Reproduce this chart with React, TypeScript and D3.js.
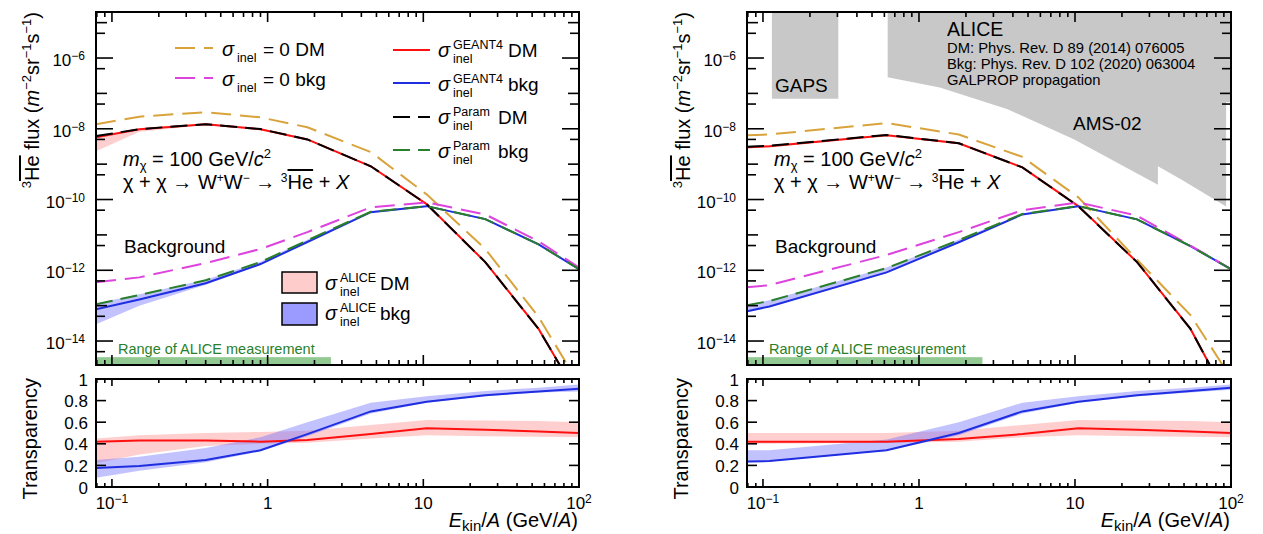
import React from 'react';
import * as d3 from 'd3';

const FONT = '"Liberation Sans", Arial, Helvetica, sans-serif';

// ---------- axes ----------
const energyDomain = [0.079, 100];
const fluxDomain = [2.1e-15, 2e-5];
const fluxLabelValues = [1e-14, 1e-12, 1e-10, 1e-8, 1e-6];
const fluxLabelExps = ['−14', '−12', '−10', '−8', '−6'];
const transLabelValues = [0, 0.2, 0.4, 0.6, 0.8, 1];
const transLabelTexts = ['0', '0.2', '0.4', '0.6', '0.8', '1'];
const energyLabelValues = [0.1, 1, 10, 100];
const energyLabelBases = ['10', '1', '10', '10'];
const energyLabelExps = ['−1', '', '', '2'];

// ---------- left panel (top: flux, bottom: transparency) ----------
const energyLeft = [0.079, 0.15, 0.4, 0.9, 1.8, 4.6, 10.5, 25, 55, 100];
const noAbsDmLeft = [1.35e-8, 2.2e-8, 2.95e-8, 2.1e-8, 1.1e-8, 2.2e-9, 1.4e-10, 4e-12, 4.8e-14, 6e-16];
const noAbsBkgLeft = [4.6e-13, 6.3e-13, 1.6e-12, 4e-12, 1.2e-11, 6e-11, 8.3e-11, 3.8e-11, 6.6e-12, 1.2e-12];
const geantDmLeft = [5.8e-9, 9.7e-9, 1.35e-8, 9.7e-9, 5e-9, 8.7e-10, 7.4e-11, 1.7e-12, 2.2e-14, 2.5e-16];
const geantBkgLeft = [7.9e-14, 1.5e-13, 4.3e-13, 1.5e-12, 6.3e-12, 4.4e-11, 6.5e-11, 2.8e-11, 5.4e-12, 1.07e-12];
const paramDmLeft = [6.2e-9, 9.8e-9, 1.35e-8, 9.8e-9, 5e-9, 8.7e-10, 7.4e-11, 1.7e-12, 2.2e-14, 2.5e-16];
const paramBkgLeft = [1.1e-13, 2e-13, 5.2e-13, 1.7e-12, 7e-12, 4.5e-11, 6.5e-11, 2.8e-11, 5.4e-12, 1.07e-12];
const aliceDmLowLeft = [2.3e-9, 8.3e-9, 1.28e-8, 9.2e-9, 4.75e-9, 8.3e-10, 7.0e-11, 1.62e-12, 2.1e-14, 2.4e-16];
const aliceDmHighLeft = [6.5e-9, 1.02e-8, 1.42e-8, 1.02e-8, 5.25e-9, 9.1e-10, 7.8e-11, 1.78e-12, 2.3e-14, 2.6e-16];
const aliceBkgLowLeft = [3.0e-14, 1.0e-13, 3.9e-13, 1.42e-12, 6.0e-12, 4.2e-11, 6.2e-11, 2.7e-11, 5.2e-12, 1.03e-12];
const aliceBkgHighLeft = [1.15e-13, 2.1e-13, 5.4e-13, 1.75e-12, 7.3e-12, 4.7e-11, 6.8e-11, 2.9e-11, 5.6e-12, 1.1e-12];
const transGeantDmLeft = [0.42, 0.43, 0.43, 0.42, 0.435, 0.49, 0.545, 0.53, 0.515, 0.5];
const transAliceDmLowLeft = [0.22, 0.3, 0.38, 0.4, 0.41, 0.45, 0.48, 0.47, 0.465, 0.46];
const transAliceDmHighLeft = [0.45, 0.48, 0.5, 0.51, 0.52, 0.575, 0.62, 0.615, 0.61, 0.6];
const transGeantBkgLeft = [0.176, 0.195, 0.25, 0.34, 0.49, 0.7, 0.79, 0.85, 0.885, 0.91];
const transAliceBkgLowLeft = [0.085, 0.15, 0.23, 0.33, 0.47, 0.68, 0.78, 0.84, 0.875, 0.885];
const transAliceBkgHighLeft = [0.25, 0.28, 0.36, 0.46, 0.6, 0.78, 0.84, 0.89, 0.92, 0.95];

// ---------- right panel ----------
const energyRight = [0.079, 0.11, 0.62, 1.8, 4.6, 10.5, 25, 55, 100];
const noAbsDmRight = [6.6e-9, 6.9e-9, 1.45e-8, 6.9e-9, 1.6e-9, 1.15e-10, 2e-12, 5.4e-14, 9e-16];
const noAbsBkgRight = [3.3e-13, 3.8e-13, 2.7e-12, 1.2e-11, 5e-11, 8.3e-11, 3.5e-11, 5e-12, 1.07e-12];
const geantDmRight = [3.0e-9, 3.2e-9, 6.6e-9, 3.9e-9, 8.1e-10, 6.5e-11, 1.7e-12, 2.2e-14, 1.6e-16];
const geantBkgRight = [6.9e-14, 9.5e-14, 8.7e-13, 6.2e-12, 3.8e-11, 6.5e-11, 2.75e-11, 4.8e-12, 1.07e-12];
const paramDmRight = [3.1e-9, 3.3e-9, 6.7e-9, 3.9e-9, 8.1e-10, 6.5e-11, 1.7e-12, 2.2e-14, 1.6e-16];
const paramBkgRight = [1.02e-13, 1.35e-13, 1.15e-12, 7.1e-12, 3.9e-11, 6.5e-11, 2.75e-11, 4.8e-12, 1.07e-12];
const aliceDmLowRight = [2.75e-9, 2.95e-9, 6.2e-9, 3.65e-9, 7.6e-10, 6.1e-11, 1.6e-12, 2.05e-14, 1.5e-16];
const aliceDmHighRight = [3.25e-9, 3.45e-9, 7.0e-9, 4.15e-9, 8.6e-10, 6.9e-11, 1.8e-12, 2.35e-14, 1.7e-16];
const aliceBkgLowRight = [6.5e-14, 9.0e-14, 8.3e-13, 6.0e-12, 3.7e-11, 6.3e-11, 2.65e-11, 4.6e-12, 1.03e-12];
const aliceBkgHighRight = [1.08e-13, 1.42e-13, 1.2e-12, 7.4e-12, 4.0e-11, 6.7e-11, 2.85e-11, 5.0e-12, 1.1e-12];
const transGeantDmRight = [0.42, 0.42, 0.42, 0.445, 0.49, 0.545, 0.53, 0.515, 0.5];
const transAliceDmLowRight = [0.4, 0.4, 0.41, 0.42, 0.46, 0.48, 0.47, 0.465, 0.46];
const transAliceDmHighRight = [0.5, 0.5, 0.5, 0.52, 0.575, 0.62, 0.615, 0.61, 0.6];
const transGeantBkgRight = [0.235, 0.24, 0.34, 0.5, 0.7, 0.79, 0.85, 0.89, 0.92];
const transAliceBkgLowRight = [0.23, 0.235, 0.335, 0.48, 0.68, 0.78, 0.84, 0.875, 0.9];
const transAliceBkgHighRight = [0.34, 0.34, 0.44, 0.6, 0.78, 0.84, 0.89, 0.92, 0.95];

// ---------- experiments / ranges ----------
const aliceRangeEnergy = [0.079, 2.55];
const aliceRangeFlux = [2.1e-15, 3.5e-15];
const gapsEnergy = [0.114, 0.304];
const gapsFlux = [7.1e-8, 1e-3];
const amsEdgeEnergy = [0.63, 1.36, 3.7, 9.9, 34, 34, 48, 93, 93, 200, 200, 0.63];
const amsEdgeFlux = [2.85e-7, 1.48e-7, 3.55e-8, 5e-9, 2.6e-10, 8.7e-10, 3.7e-10, 6.4e-11, 5.6e-8, 5.6e-8, 1e-3, 1e-3];

// ---------- style ----------
const GOLD = '#d9a33b';
const MAGENTA = '#dd44dd';
const RED = '#ff1010';
const BLUE = '#1f2ee0';
const GREEN = '#2a7f2a';
const PINK_BAND = 'rgba(255,140,140,0.42)';
const BLUE_BAND = 'rgba(110,110,255,0.42)';

const TOP_Y0 = 12;
const TOP_Y1 = 365;
const BOT_Y0 = 379;
const BOT_Y1 = 487;

type Series = {
  energy: number[];
  noAbsDm: number[]; noAbsBkg: number[]; geantDm: number[]; geantBkg: number[];
  paramDm: number[]; paramBkg: number[];
  aliceDmLow: number[]; aliceDmHigh: number[]; aliceBkgLow: number[]; aliceBkgHigh: number[];
  tGeantDm: number[]; tDmLow: number[]; tDmHigh: number[];
  tGeantBkg: number[]; tBkgLow: number[]; tBkgHigh: number[];
};

const leftSeries: Series = {
  energy: energyLeft, noAbsDm: noAbsDmLeft, noAbsBkg: noAbsBkgLeft, geantDm: geantDmLeft,
  geantBkg: geantBkgLeft, paramDm: paramDmLeft, paramBkg: paramBkgLeft,
  aliceDmLow: aliceDmLowLeft, aliceDmHigh: aliceDmHighLeft, aliceBkgLow: aliceBkgLowLeft, aliceBkgHigh: aliceBkgHighLeft,
  tGeantDm: transGeantDmLeft, tDmLow: transAliceDmLowLeft, tDmHigh: transAliceDmHighLeft,
  tGeantBkg: transGeantBkgLeft, tBkgLow: transAliceBkgLowLeft, tBkgHigh: transAliceBkgHighLeft,
};
const rightSeries: Series = {
  energy: energyRight, noAbsDm: noAbsDmRight, noAbsBkg: noAbsBkgRight, geantDm: geantDmRight,
  geantBkg: geantBkgRight, paramDm: paramDmRight, paramBkg: paramBkgRight,
  aliceDmLow: aliceDmLowRight, aliceDmHigh: aliceDmHighRight, aliceBkgLow: aliceBkgLowRight, aliceBkgHigh: aliceBkgHighRight,
  tGeantDm: transGeantDmRight, tDmLow: transAliceDmLowRight, tDmHigh: transAliceDmHighRight,
  tGeantBkg: transGeantBkgRight, tBkgLow: transAliceBkgLowRight, tBkgHigh: transAliceBkgHighRight,
};

function Sigma({ x, y, sup, sub, rest, restX }: { x: number; y: number; sup?: string; sub: string; rest: string; restX: number }) {
  return (
    <g>
      <text x={x} y={y} fontSize={20} fontStyle="italic">σ</text>
      {sup ? <text x={x + 15} y={y - 8.5} fontSize={12.5}>{sup}</text> : null}
      <text x={x + 15} y={y + 5.5} fontSize={12.5}>{sub}</text>
      <text x={restX} y={y} fontSize={19}>{rest}</text>
    </g>
  );
}

function Panel({ left, right, id, s, legend, experiments }: { left: number; right: number; id: string; s: Series; legend: boolean; experiments: boolean }) {
  const x = d3.scaleLog().domain(energyDomain).range([left, right]);
  const yF = d3.scaleLog().domain(fluxDomain).range([TOP_Y1, TOP_Y0]);
  const yT = d3.scaleLinear().domain([0, 1]).range([BOT_Y1, BOT_Y0]);
  const E = s.energy;
  const lineF = (vals: number[]) => d3.line<number>().x((_, i) => x(E[i])).y((v) => yF(v))(vals) || '';
  const areaF = (lo: number[], hi: number[]) =>
    d3.area<number>().x((_, i) => x(E[i])).y0((_, i) => yF(lo[i])).y1((_, i) => yF(hi[i]))(lo) || '';
  const lineT = (vals: number[]) => d3.line<number>().x((_, i) => x(E[i])).y((v) => yT(v))(vals) || '';
  const areaT = (lo: number[], hi: number[]) =>
    d3.area<number>().x((_, i) => x(E[i])).y0((_, i) => yT(lo[i])).y1((_, i) => yT(hi[i]))(lo) || '';
  const poly = (es: number[], fs: number[]) =>
    (d3.line<number>().x((_, i) => x(es[i])).y((_, i) => yF(fs[i]))(es) || '') + 'Z';

  const xTicks: { v: number; major: boolean }[] = [];
  for (let k = -2; k <= 2; k++) {
    for (let m = 1; m <= 9; m++) {
      const v = m * Math.pow(10, k);
      if (v >= energyDomain[0] && v <= energyDomain[1] * 1.0001) xTicks.push({ v, major: m === 1 });
    }
  }
  const yTicks: { v: number; len: number }[] = [];
  for (let k = -16; k <= -4; k++) {
    const v1 = Math.pow(10, k);
    const v5 = 5 * Math.pow(10, k);
    if (v1 >= fluxDomain[0] && v1 <= fluxDomain[1]) yTicks.push({ v: v1, len: k % 2 === 0 ? 17 : 11 });
    if (v5 >= fluxDomain[0] && v5 <= fluxDomain[1]) yTicks.push({ v: v5, len: 9 });
  }

  const clipTop = `clipTop${id}`;
  const clipBot = `clipBot${id}`;

  return (
    <g>
      <defs>
        <clipPath id={clipTop}><rect x={left} y={TOP_Y0} width={right - left} height={TOP_Y1 - TOP_Y0} /></clipPath>
        <clipPath id={clipBot}><rect x={left} y={BOT_Y0} width={right - left} height={BOT_Y1 - BOT_Y0} /></clipPath>
      </defs>

      <g clipPath={`url(#${clipTop})`}>
        {experiments ? (
          <g>
            <path d={poly([gapsEnergy[0], gapsEnergy[1], gapsEnergy[1], gapsEnergy[0]], [gapsFlux[0], gapsFlux[0], gapsFlux[1], gapsFlux[1]])} fill="#c8c8c8" />
            <path d={poly(amsEdgeEnergy, amsEdgeFlux)} fill="#c8c8c8" />
          </g>
        ) : null}
        <rect x={x(aliceRangeEnergy[0]) - 2} y={yF(aliceRangeFlux[1])} width={x(aliceRangeEnergy[1]) - x(aliceRangeEnergy[0]) + 2}
          height={yF(aliceRangeFlux[0]) - yF(aliceRangeFlux[1])} fill="#92c992" />
        <path d={areaF(s.aliceDmLow, s.aliceDmHigh)} fill={PINK_BAND} />
        <path d={areaF(s.aliceBkgLow, s.aliceBkgHigh)} fill={BLUE_BAND} />
        <path d={lineF(s.geantDm)} fill="none" stroke={RED} strokeWidth={2} />
        <path d={lineF(s.geantBkg)} fill="none" stroke={BLUE} strokeWidth={2} />
        <path d={lineF(s.noAbsDm)} fill="none" stroke={GOLD} strokeWidth={2} strokeDasharray="20 9" />
        <path d={lineF(s.noAbsBkg)} fill="none" stroke={MAGENTA} strokeWidth={2} strokeDasharray="20 9" />
        <path d={lineF(s.paramDm)} fill="none" stroke="#000" strokeWidth={2} strokeDasharray="17 8" />
        <path d={lineF(s.paramBkg)} fill="none" stroke={GREEN} strokeWidth={2} strokeDasharray="17 8" />
      </g>

      <g clipPath={`url(#${clipBot})`}>
        <path d={areaT(s.tDmLow, s.tDmHigh)} fill={PINK_BAND} />
        <path d={areaT(s.tBkgLow, s.tBkgHigh)} fill={BLUE_BAND} />
        <path d={lineT(s.tGeantDm)} fill="none" stroke={RED} strokeWidth={2} />
        <path d={lineT(s.tGeantBkg)} fill="none" stroke={BLUE} strokeWidth={2} />
      </g>

      <g stroke="#000" strokeWidth={1.6}>
        {xTicks.map((t, i) => (
          <g key={'xt' + i}>
            <line x1={x(t.v)} x2={x(t.v)} y1={TOP_Y1} y2={TOP_Y1 - (t.major ? 10 : 5)} />
            <line x1={x(t.v)} x2={x(t.v)} y1={TOP_Y0} y2={TOP_Y0 + (t.major ? 10 : 5)} />
            <line x1={x(t.v)} x2={x(t.v)} y1={BOT_Y1} y2={BOT_Y1 - (t.major ? 8 : 4)} />
            <line x1={x(t.v)} x2={x(t.v)} y1={BOT_Y0} y2={BOT_Y0 + (t.major ? 7 : 4)} />
          </g>
        ))}
        {yTicks.map((t, i) => (
          <g key={'yt' + i}>
            <line x1={left} x2={left + t.len} y1={yF(t.v)} y2={yF(t.v)} />
            <line x1={right} x2={right - t.len} y1={yF(t.v)} y2={yF(t.v)} />
          </g>
        ))}
        {transLabelValues.map((v, i) => (
          <g key={'tt' + i}>
            <line x1={left} x2={left + 10} y1={yT(v)} y2={yT(v)} />
            <line x1={right} x2={right - 10} y1={yT(v)} y2={yT(v)} />
          </g>
        ))}
      </g>

      <rect x={left} y={TOP_Y0} width={right - left} height={TOP_Y1 - TOP_Y0} fill="none" stroke="#000" strokeWidth={2} />
      <rect x={left} y={BOT_Y0} width={right - left} height={BOT_Y1 - BOT_Y0} fill="none" stroke="#000" strokeWidth={2} />

      {fluxLabelValues.map((v, i) => (
        <text key={'fl' + i} x={left - 11} y={yF(v) + 8} fontSize={17} textAnchor="end">
          10<tspan dy={-6} fontSize={12}>{fluxLabelExps[i]}</tspan>
        </text>
      ))}
      {transLabelValues.map((v, i) => (
        <text key={'tl' + i} x={left - 8} y={yT(v) + 6.5} fontSize={17} textAnchor="end">{transLabelTexts[i]}</text>
      ))}
      {energyLabelValues.map((v, i) => (
        <text key={'el' + i} x={x(v)} y={509} fontSize={17} textAnchor="middle">
          {energyLabelBases[i]}
          {energyLabelExps[i] ? <tspan dy={-6.5} fontSize={12}>{energyLabelExps[i]}</tspan> : null}
        </text>
      ))}

      <text x={right - 1} y={527} fontSize={20} textAnchor="end">
        <tspan fontStyle="italic">E</tspan>
        <tspan dy={3.5} fontSize={15}>kin</tspan>
        <tspan dy={-3.5}>/</tspan>
        <tspan fontStyle="italic">A</tspan>
        <tspan> (GeV/</tspan>
        <tspan fontStyle="italic">A</tspan>
        <tspan>)</tspan>
      </text>
      <g transform={`translate(${left - 57},${TOP_Y0}) rotate(-90)`}>
        <text x={0} y={0} fontSize={20} textAnchor="end">
          <tspan dy={-8} fontSize={13}>3</tspan>
          <tspan dy={8} style={{ textDecoration: 'overline' }}>He</tspan>
          <tspan> flux (</tspan>
          <tspan fontStyle="italic">m</tspan>
          <tspan dy={-8} fontSize={13}>−2</tspan>
          <tspan dy={8}>sr</tspan>
          <tspan dy={-8} fontSize={13}>−1</tspan>
          <tspan dy={8}>s</tspan>
          <tspan dy={-8} fontSize={13}>−1</tspan>
          <tspan dy={8}>)</tspan>
        </text>
      </g>
      <g transform={`translate(${left - 59},${BOT_Y0 - 1}) rotate(-90)`}>
        <text x={0} y={0} fontSize={20} textAnchor="end">Transparency</text>
      </g>

      <text x={left + 27} y={166} fontSize={20}>
        <tspan fontStyle="italic">m</tspan>
        <tspan dy={4} fontSize={13}>χ</tspan>
        <tspan dy={-4}> = 100 GeV/</tspan>
        <tspan fontStyle="italic">c</tspan>
        <tspan dy={-8} fontSize={13}>2</tspan>
      </text>
      <text x={left + 27} y={189} fontSize={20}>
        <tspan>χ + χ → W</tspan>
        <tspan dy={-7} fontSize={12}>+</tspan>
        <tspan dy={7}>W</tspan>
        <tspan dy={-7} fontSize={12}>−</tspan>
        <tspan dy={7}> → </tspan>
        <tspan dy={-7} fontSize={12}>3</tspan>
        <tspan dy={7} style={{ textDecoration: 'overline' }}>He</tspan>
        <tspan> + </tspan>
        <tspan fontStyle="italic">X</tspan>
      </text>
      <text x={left + 28} y={253} fontSize={19}>Background</text>
      <text x={left + 22} y={354} fontSize={14.5} fill={GREEN}>Range of ALICE measurement</text>

      {legend ? (
        <g>
          <line x1={left + 79} x2={left + 117} y1={48} y2={48} stroke={GOLD} strokeWidth={2} strokeDasharray="20 9" />
          <Sigma x={left + 126} y={56} sub="inel" rest="= 0 DM" restX={left + 167} />
          <line x1={left + 79} x2={left + 117} y1={78} y2={78} stroke={MAGENTA} strokeWidth={2} strokeDasharray="20 9" />
          <Sigma x={left + 126} y={86} sub="inel" rest="= 0 bkg" restX={left + 167} />

          <line x1={left + 297} x2={left + 334} y1={50} y2={50} stroke={RED} strokeWidth={2} />
          <Sigma x={left + 342} y={57} sup="GEANT4" sub="inel" rest="DM" restX={left + 412} />
          <line x1={left + 297} x2={left + 334} y1={83} y2={83} stroke={BLUE} strokeWidth={2} />
          <Sigma x={left + 342} y={91} sup="GEANT4" sub="inel" rest="bkg" restX={left + 412} />
          <line x1={left + 297} x2={left + 334} y1={117} y2={117} stroke="#000" strokeWidth={2} strokeDasharray="17 8" />
          <Sigma x={left + 342} y={124} sup="Param" sub="inel" rest="DM" restX={left + 402} />
          <line x1={left + 297} x2={left + 334} y1={150} y2={150} stroke={GREEN} strokeWidth={2} strokeDasharray="17 8" />
          <Sigma x={left + 342} y={158} sup="Param" sub="inel" rest="bkg" restX={left + 402} />

          <rect x={left + 186} y={272} width={35} height={21} fill="#ffcccc" stroke="#000" strokeWidth={1.5} />
          <Sigma x={left + 229} y={290} sup="ALICE" sub="inel" rest="DM" restX={left + 284} />
          <rect x={left + 186} y={303} width={35} height={22} fill="#9b9bff" stroke="#000" strokeWidth={1.5} />
          <Sigma x={left + 229} y={320} sup="ALICE" sub="inel" rest="bkg" restX={left + 284} />
        </g>
      ) : null}

      {experiments ? (
        <g>
          <text x={left + 28} y={92} fontSize={19}>GAPS</text>
          <text x={left + 326} y={130} fontSize={19}>AMS-02</text>
          <text x={left + 200} y={36} fontSize={19.5}>ALICE</text>
          <text x={left + 200} y={53} fontSize={14.8}>DM: Phys. Rev. D 89 (2014) 076005</text>
          <text x={left + 200} y={69} fontSize={14.8}>Bkg: Phys. Rev. D 102 (2020) 063004</text>
          <text x={left + 200} y={85} fontSize={14.8}>GALPROP propagation</text>
        </g>
      ) : null}
    </g>
  );
}

export default function App() {
  return (
    <svg width={1263} height={534} style={{ position: 'absolute', left: 0, top: 0, background: '#fff' }}
      fontFamily={FONT} fill="#000">
      <rect x={0} y={0} width={1263} height={534} fill="#fff" />
      <Panel left={96} right={579} id="L" s={leftSeries} legend={true} experiments={false} />
      <Panel left={747} right={1231} id="R" s={rightSeries} legend={false} experiments={true} />
    </svg>
  );
}
